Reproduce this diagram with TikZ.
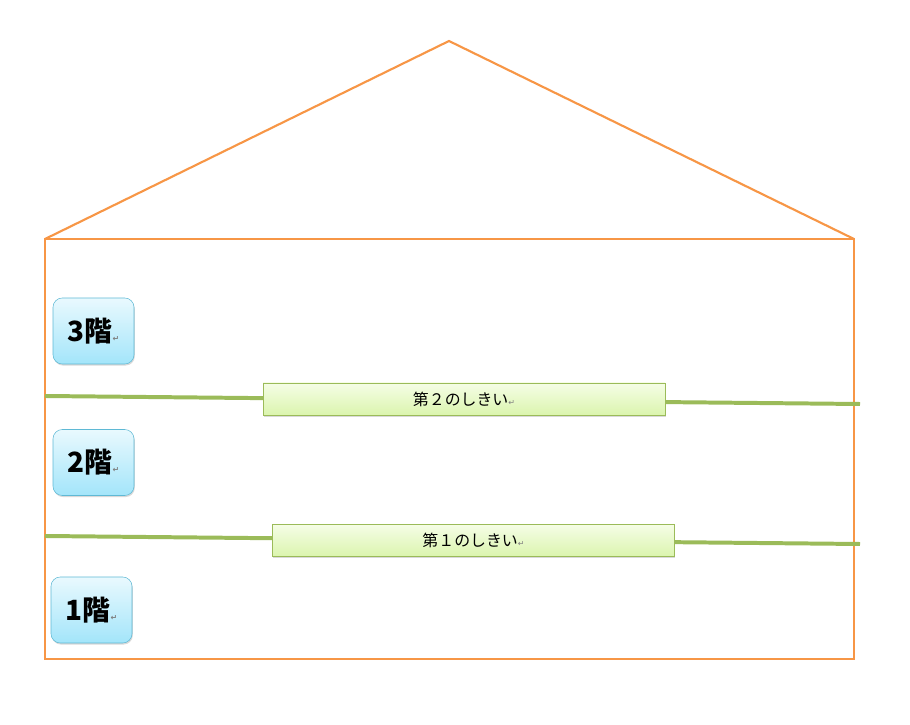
\documentclass[tikz,border=0pt]{standalone}
\usepackage{fontspec}
\newfontfamily\jpfont{Noto Sans CJK JP}
\newfontfamily\symfont{DejaVu Sans}
\usetikzlibrary{positioning}
\usetikzlibrary{shadows}
\definecolor{houseorange}{HTML}{F79646}
\definecolor{sillgreen}{HTML}{9BBB59}
\definecolor{floorblue}{HTML}{5FB9D5}
\definecolor{floortop}{HTML}{E9F9FE}
\definecolor{floorbot}{HTML}{A3E5FA}
\definecolor{silltop}{HTML}{F5FDE6}
\definecolor{sillbot}{HTML}{DBF5AE}
\tikzset{
  floorbox/.style={rectangle,rounded corners=7pt,draw=floorblue,thin,
    top color=floortop,bottom color=floorbot,
    minimum width=81*0.0265cm,minimum height=66*0.0265cm,
    font=\jpfont\fontsize{21}{21}\selectfont\bfseries,
    drop shadow={shadow xshift=0.6pt,shadow yshift=-1.2pt,opacity=0.3}},
  sillbox/.style={rectangle,draw=sillgreen,thin,
    top color=silltop,bottom color=sillbot,
    minimum width=402*0.0265cm,minimum height=32*0.0265cm,
    font=\jpfont\fontsize{12}{12}\selectfont,
    drop shadow={shadow xshift=0.6pt,shadow yshift=-1.2pt,opacity=0.3}},
  sill/.style={sillgreen,line width=3pt},
}
\newcommand{\retmark}{{\symfont\fontsize{6}{6}\selectfont\textcolor{gray}{↵}}}
\begin{document}
\begin{tikzpicture}[x=0.0265cm,y=-0.0265cm]
\useasboundingbox (0,0) rectangle (910,725);
% house
\draw[houseorange,line width=1.6pt,line join=miter] (45,239) -- (449,41) -- (854,239);
\draw[houseorange,line width=1.6pt] (45,239) rectangle (854,659);
% thresholds
\coordinate (wl2) at (45,396);
\coordinate (wr2) at (860,404);
\coordinate (wl1) at (45,536);
\coordinate (wr1) at (860,544);
\draw[sill] (wl2) -- (wr2);
\draw[sill] (wl1) -- (wr1);
\node[sillbox] (t2) at (464,399) {第２のしきい\retmark};
\node[sillbox] (t1) at (473.5,540.5) {第１のしきい\retmark};
% floors
\node[floorbox] (f3) at (93.5,331) {3階\retmark};
\node[floorbox] (f2) at (93.5,462.5) {2階\retmark};
\node[floorbox] (f1) at (91.5,610) {1階\retmark};
\end{tikzpicture}
\end{document}
